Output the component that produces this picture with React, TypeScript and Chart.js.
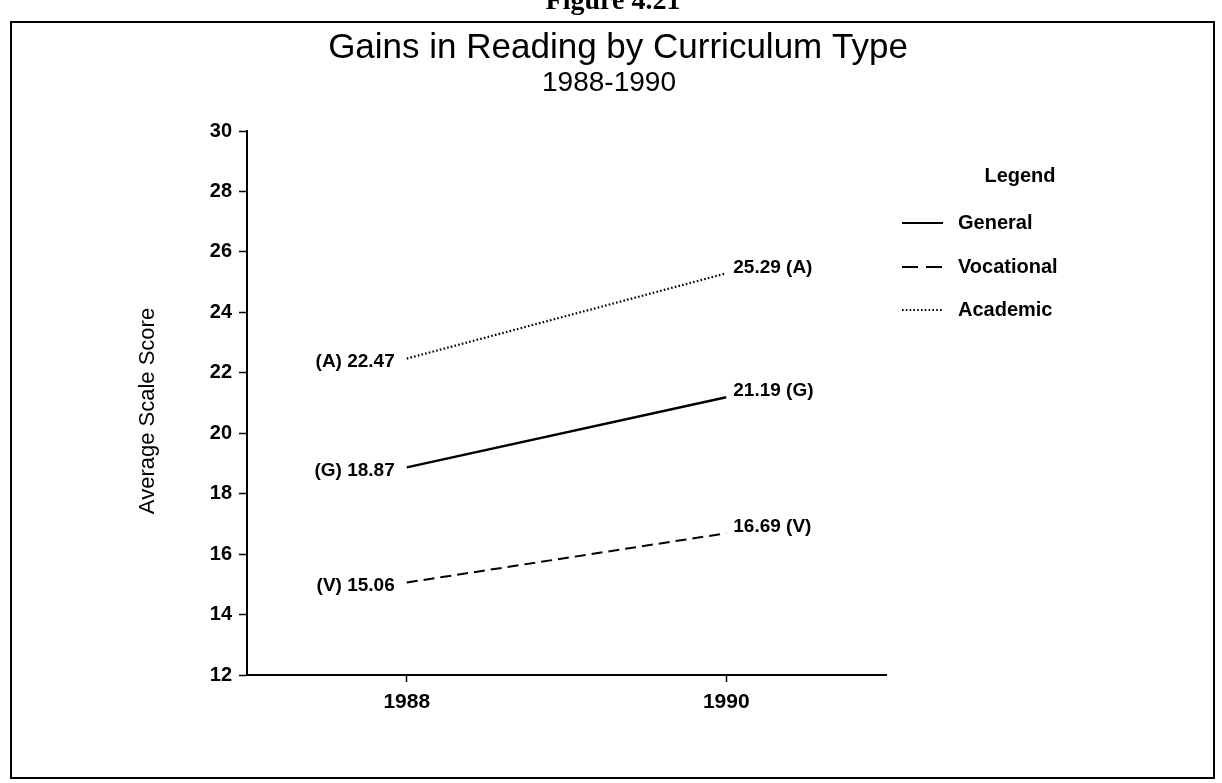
import React, { useEffect, useRef } from "react";
import { Chart, registerables } from "chart.js";

Chart.register(...registerables);

// ---- data ----
const years = [1988, 1990];
const general = [18.87, 21.19];
const vocational = [15.06, 16.69];
const academic = [22.47, 25.29];
const seriesNames = ["General", "Vocational", "Academic"];
const seriesTags = ["G", "V", "A"];
const xTickValues = [1988, 1990];
const yTickValues = [12, 14, 16, 18, 20, 22, 24, 26, 28, 30];
const figureText = "Figure 4.21";
const titleText = "Gains in Reading by Curriculum Type";
const subtitleText = "1988-1990";
const yAxisTitle = "Average Scale Score";
const legendTitle = "Legend";

const FONT = "'Liberation Sans', Arial, Helvetica, sans-serif";
const W = 1222;
const H = 783;

const seriesValues = [general, vocational, academic];
const seriesDash = [[], [11, 6], [1.6, 2.2]];
const seriesWidth = [2.4, 2, 2.2];
const legendDash = [[], [16, 8], [1.6, 2.2]];

const decorPlugin = {
  id: "decor",
  beforeDraw(chart: any) {
    const ctx = chart.ctx;
    ctx.save();
    ctx.fillStyle = "#fff";
    ctx.fillRect(0, 0, W, H);
    ctx.restore();
  },
  afterDraw(chart: any) {
    const ctx = chart.ctx;
    ctx.save();
    ctx.fillStyle = "#000";
    ctx.strokeStyle = "#000";

    // frame
    ctx.lineWidth = 2;
    ctx.setLineDash([]);
    ctx.strokeRect(11, 22, 1203, 756);

    // cut-off figure caption at the very top
    ctx.textAlign = "center";
    ctx.textBaseline = "alphabetic";
    ctx.font = `bold 28px 'Liberation Serif', 'Times New Roman', serif`;
    ctx.fillText(figureText, 613, 9);

    // title & subtitle
    ctx.textBaseline = "middle";
    ctx.font = `35px ${FONT}`;
    ctx.fillText(titleText, 618, 48);
    ctx.font = `28px ${FONT}`;
    ctx.fillText(subtitleText, 609, 83);

    // y axis title
    ctx.save();
    ctx.translate(148, 411);
    ctx.rotate(-Math.PI / 2);
    ctx.font = `22px ${FONT}`;
    ctx.fillText(yAxisTitle, 0, 0);
    ctx.restore();

    // point labels
    ctx.font = `bold 19px ${FONT}`;
    chart.data.datasets.forEach((ds: any, di: number) => {
      const meta = chart.getDatasetMeta(di);
      const tag = seriesTags[di];
      meta.data.forEach((pt: any, i: number) => {
        const v = seriesValues[di][i];
        if (i === 0) {
          ctx.textAlign = "right";
          ctx.fillText(`(${tag}) ${v.toFixed(2)}`, pt.x - 12, pt.y + 3);
        } else {
          ctx.textAlign = "left";
          ctx.fillText(`${v.toFixed(2)} (${tag})`, pt.x + 7, pt.y - 6);
        }
      });
    });

    // legend
    ctx.textAlign = "center";
    ctx.font = `bold 20px ${FONT}`;
    ctx.fillText(legendTitle, 1020, 176);
    ctx.textAlign = "left";
    const rowY = [223, 267, 310];
    seriesNames.forEach((name, i) => {
      const y = rowY[i];
      ctx.beginPath();
      ctx.setLineDash(legendDash[i]);
      ctx.lineWidth = 2;
      ctx.moveTo(902, y);
      ctx.lineTo(943, y);
      ctx.stroke();
      ctx.setLineDash([]);
      ctx.fillText(name, 958, y);
    });

    ctx.restore();
  },
};

export default function App() {
  const canvasRef = useRef<HTMLCanvasElement | null>(null);

  useEffect(() => {
    const canvas = canvasRef.current;
    if (!canvas) return;

    const datasets = seriesNames.map((name, i) => ({
      label: name,
      data: years.map((x, j) => ({ x, y: seriesValues[i][j] })),
      borderColor: "#000",
      backgroundColor: "#000",
      borderWidth: seriesWidth[i],
      borderDash: seriesDash[i],
      pointRadius: 0,
      fill: false,
      tension: 0,
    }));

    const padLeft = 160;
    const chartLeft = 247;
    const chartRight = 886;
    const chartTop = 131;
    const chartBottom = 675;

    const chart = new Chart(canvas, {
      type: "line",
      data: { datasets },
      options: {
        animation: false,
        responsive: false,
        devicePixelRatio: 1,
        layout: {
          padding: { left: padLeft, right: W - chartRight, top: chartTop, bottom: 0 },
        },
        plugins: {
          legend: { display: false },
          tooltip: { enabled: false },
          title: { display: false },
        },
        scales: {
          x: {
            type: "linear",
            min: 1987,
            max: 1991,
            afterBuildTicks: (axis: any) => {
              axis.ticks = xTickValues.map((v) => ({ value: v }));
            },
            afterFit: (s: any) => {
              s.height = H - chartBottom;
            },
            grid: {
              drawOnChartArea: false,
              drawTicks: true,
              tickLength: 7,
              tickColor: "#000",
              tickWidth: 1.5,
            },
            border: { display: true, color: "#000", width: 2 },
            ticks: {
              color: "#000",
              font: { family: FONT, size: 21, weight: "bold" },
              padding: 8,
              maxRotation: 0,
              callback: (v: any) => String(v),
            },
          },
          y: {
            type: "linear",
            min: 12,
            max: 30,
            afterBuildTicks: (axis: any) => {
              axis.ticks = yTickValues.map((v) => ({ value: v }));
            },
            afterFit: (s: any) => {
              s.width = chartLeft - padLeft;
            },
            grid: {
              drawOnChartArea: false,
              drawTicks: true,
              tickLength: 8,
              tickColor: "#000",
              tickWidth: 1.5,
            },
            border: { display: true, color: "#000", width: 2 },
            ticks: {
              color: "#000",
              font: { family: FONT, size: 20, weight: "bold" },
              padding: 7,
              callback: (v: any) => String(v),
            },
            title: { display: false },
          },
        },
      },
      plugins: [decorPlugin],
    } as any);

    return () => {
      chart.destroy();
    };
  }, []);

  return (
    <div style={{ position: "absolute", left: 0, top: 0, width: W, height: H, background: "#fff" }}>
      <canvas ref={canvasRef} width={W} height={H} style={{ display: "block", width: W, height: H }} />
    </div>
  );
}
